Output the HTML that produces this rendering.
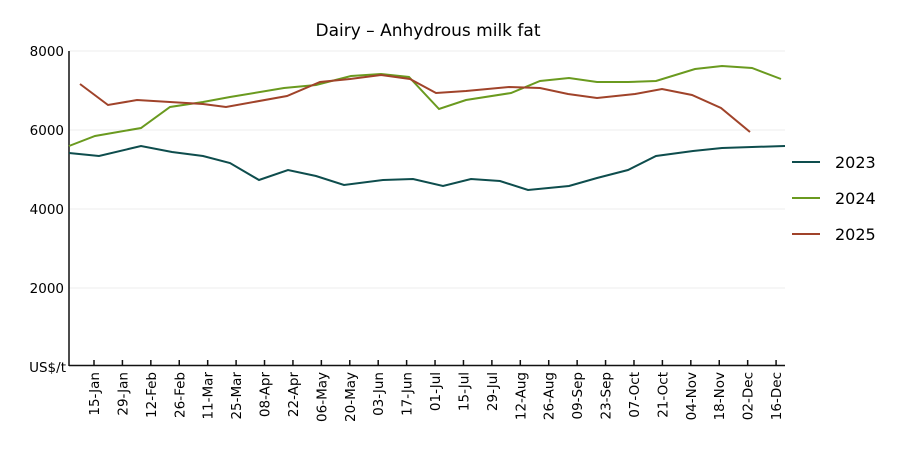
<!DOCTYPE html><html><head><style>body{margin:0;background:#fff}</style></head><body>
<svg width="900" height="450" xmlns="http://www.w3.org/2000/svg" font-family="DejaVu Sans, sans-serif">
<text x="428" y="36" font-size="17" text-anchor="middle" fill="#000">Dairy – Anhydrous milk fat</text>
<g stroke="#eee" stroke-width="1">
<line x1="69" x2="785" y1="51" y2="51"/><line x1="69" x2="785" y1="130" y2="130"/><line x1="69" x2="785" y1="209" y2="209"/><line x1="69" x2="785" y1="288" y2="288"/></g>
<g font-size="13.5" text-anchor="end" fill="#000">
<text x="64" y="56">8000</text><text x="64" y="135">6000</text><text x="64" y="214">4000</text><text x="64" y="293">2000</text><text x="66" y="372">US$/t</text></g>
<line x1="69" y1="51" x2="69" y2="366" stroke="#111" stroke-width="1.5"/>
<line x1="69" y1="365.5" x2="785" y1="365.5" y2="365.5" stroke="#111" stroke-width="1.5"/>
<g id="t" stroke="#111"></g>
<g font-size="13.5" fill="#000" id="lbl"></g>
<polyline fill="none" stroke="#0e4d4d" stroke-width="2" points="69,153 99,156 141,146 172,152 203,156 230,163 259,180 288,170 316,176 344,185 383,180 413,179 443,186 471,179 500,181 528,190 569,186 597,178 628,170 656,156 693,151 722,148 752,147 785,146"/>
<polyline fill="none" stroke="#6a9a1f" stroke-width="2" points="69,146 95,136 141,128 170,107 203,102 230,97 284,88 316,85 351,76 381,74 409,77 439,109 466,100 511,93 540,81 569,78 597,82 628,82 656,81 695,69 722,66 752,68 781,79"/>
<polyline fill="none" stroke="#a0432a" stroke-width="2" points="80,84 108,105 137,100 203,104 226,107 287,96 320,82 350,79 381,75 410,79 436,93 466,91 509,87 540,88 568,94 597,98 635,94 662,89 692,95 721,108 750,132"/>
<g stroke-width="2"><line x1="792" x2="820" y1="162" y2="162" stroke="#0e4d4d"/><line x1="792" x2="820" y1="198" y2="198" stroke="#6a9a1f"/><line x1="792" x2="820" y1="234" y2="234" stroke="#a0432a"/></g>
<g font-size="16" fill="#000"><text x="835" y="168">2023</text><text x="835" y="204">2024</text><text x="835" y="240">2025</text></g>
<script>
var L=["15-Jan","29-Jan","12-Feb","26-Feb","11-Mar","25-Mar","08-Apr","22-Apr","06-May","20-May","03-Jun","17-Jun","01-Jul","15-Jul","29-Jul","12-Aug","26-Aug","09-Sep","23-Sep","07-Oct","21-Oct","04-Nov","18-Nov","02-Dec","16-Dec"];
var t=document.getElementById("t"),g=document.getElementById("lbl"),ns="http://www.w3.org/2000/svg";
L.forEach(function(s,i){var x=94+i*28.42;var l=document.createElementNS(ns,"line");l.setAttribute("x1",x);l.setAttribute("x2",x);l.setAttribute("y1",360);l.setAttribute("y2",366);l.setAttribute("stroke-width","1.5");t.appendChild(l);
var e=document.createElementNS(ns,"text");e.setAttribute("transform","translate("+(x+5)+",372) rotate(-90)");e.setAttribute("text-anchor","end");e.textContent=s;g.appendChild(e);});
</script>
</svg></body></html>
